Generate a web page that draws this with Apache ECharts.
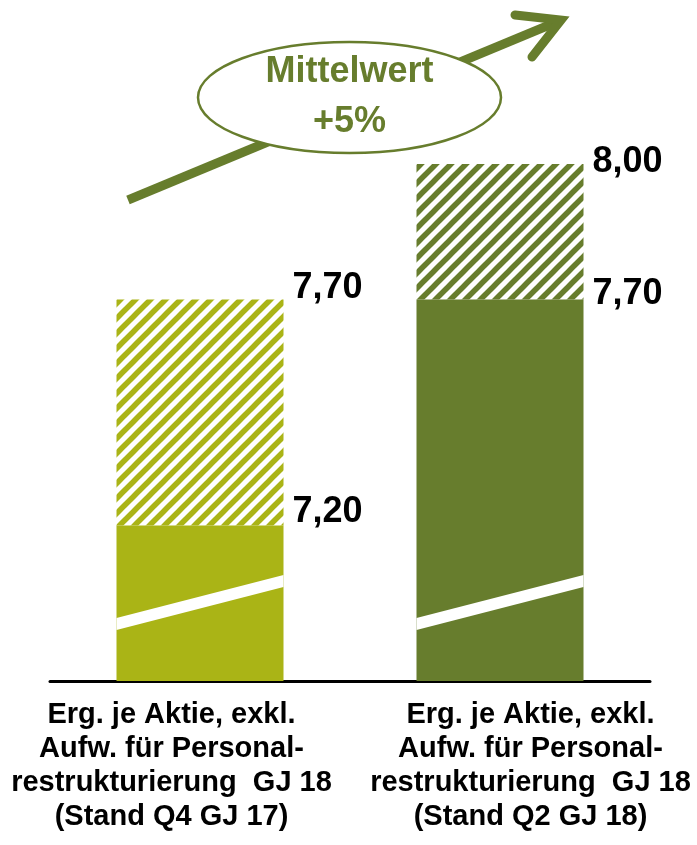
<!DOCTYPE html>
<html>
<head>
<meta charset="utf-8">
<script src="https://cdn.jsdelivr.net/npm/echarts@6/dist/echarts.min.js"></script>
<style>
  html, body { margin: 0; padding: 0; background: #fff; }
  #chart { width: 697px; height: 845px; }
</style>
</head>
<body>
<div id="chart"></div>
<script>
  // Kategorien + Werte
  const categories = [
    'Erg. je Aktie, exkl.\nAufw. für Personal-\nrestrukturierung  GJ 18\n(Stand Q4 GJ 17)',
    'Erg. je Aktie, exkl.\nAufw. für Personal-\nrestrukturierung  GJ 18\n(Stand Q2 GJ 18)'
  ];
  const lowValues = [7.20, 7.70];   // untere Spanne (voll)
  const highValues = [7.70, 8.00];  // obere Spanne (schraffiert)
  const badgeText = 'Mittelwert\n+5%';

  // Achse ist unten abgeschnitten (Achsenbruch)
  const axisMin = 6.856;
  const axisMax = 8.00;

  const solidColors = ['#AAB416', '#677D2D'];
  const olive = '#677D2D';
  const labelShiftLow = [-13, -5];
  const labelShiftHigh = [-11, -2];
  const catPadding = [[0, 57, 0, 0], [0, 0, 0, 61]];
  const barWidth = 167;
  const font = 'Arial, "Liberation Sans", sans-serif';

  function hatch(color) {
    const c = document.createElement('canvas');
    const s = 15;
    c.width = s; c.height = s;
    const ctx = c.getContext('2d');
    ctx.strokeStyle = color;
    ctx.lineWidth = 5.5;
    ctx.lineCap = 'square';
    [[0, s, s, 0], [-s / 2, s / 2, s / 2, -s / 2], [s / 2, s * 1.5, s * 1.5, s / 2]].forEach(l => {
      ctx.beginPath();
      ctx.moveTo(l[0], l[1]);
      ctx.lineTo(l[2], l[3]);
      ctx.stroke();
    });
    return c;
  }

  const fmt = v => v.toFixed(2).replace('.', ',');

  const myChart = echarts.init(document.getElementById('chart'), null, {renderer: 'canvas'});

  const labelBase = {
    show: true,
    position: ['100%', 0],
    align: 'left',
    verticalAlign: 'middle',
    color: '#000',
    fontFamily: font,
    fontWeight: 'bold',
    fontSize: 36
  };

  myChart.setOption({
    animation: false,
    grid: {left: 50, right: 47, top: 164, bottom: 164},
    xAxis: {
      type: 'category',
      data: categories.map((c, i) => ({value: c, textStyle: {padding: catPadding[i]}})),
      axisLine: {show: true, lineStyle: {color: '#000', width: 3}},
      axisTick: {show: false},
      splitLine: {show: false},
      axisLabel: {
        margin: 17,
        color: '#000',
        fontFamily: font,
        fontWeight: 'bold',
        fontSize: 29,
        lineHeight: 34,
        align: 'center',
        interval: 0
      }
    },
    yAxis: {
      type: 'value',
      show: false,
      min: axisMin,
      max: axisMax,
      splitLine: {show: false}
    },
    series: [
      {
        name: 'low',
        type: 'bar',
        stack: 'a',
        barWidth: barWidth,
        z: 2,
        data: lowValues.map((v, i) => ({
          value: v,
          itemStyle: {color: solidColors[i]},
          label: Object.assign({}, labelBase, {offset: [9, labelShiftLow[i]], formatter: () => fmt(lowValues[i])})
        }))
      },
      {
        name: 'high',
        type: 'bar',
        stack: 'a',
        barWidth: barWidth,
        z: 2,
        data: highValues.map((v, i) => ({
          value: v - lowValues[i],
          itemStyle: {color: {image: hatch(solidColors[i]), repeat: 'repeat'}},
          label: Object.assign({}, labelBase, {offset: [9, labelShiftHigh[i]], formatter: () => fmt(highValues[i])})
        }))
      },
      {
        // weisser Achsenbruch-Streifen
        name: 'break',
        type: 'custom',
        z: 5,
        silent: true,
        data: categories.map((c, i) => [i, axisMin]),
        renderItem: function (params, api) {
          const p = api.coord([api.value(0), api.value(1)]);
          const h = barWidth / 2;
          return {
            type: 'polygon',
            shape: {
              points: [
                [p[0] - h, p[1] - 63], [p[0] + h, p[1] - 106],
                [p[0] + h, p[1] - 94], [p[0] - h, p[1] - 51]
              ]
            },
            style: {fill: '#fff'}
          };
        }
      }
    ],
    graphic: [
      {
        type: 'line', z: 10,
        shape: {x1: 128, y1: 200, x2: 559, y2: 21},
        style: {stroke: olive, lineWidth: 9, lineCap: 'butt'}
      },
      {
        type: 'polyline', z: 10,
        shape: {points: [[515, 15], [561, 20], [532, 57]]},
        style: {stroke: olive, lineWidth: 9, lineCap: 'round', lineJoin: 'miter', fill: null}
      },
      {
        type: 'ellipse', z: 11,
        shape: {cx: 349.5, cy: 97.5, rx: 151.5, ry: 55.5},
        style: {fill: '#fff', stroke: olive, lineWidth: 2.5}
      },
      {
        type: 'text', z: 12,
        x: 349.5, y: 97.5,
        style: {
          text: badgeText,
          fill: olive,
          font: 'bold 36px ' + font,
          align: 'center',
          verticalAlign: 'middle',
          lineHeight: 50
        }
      }
    ]
  });
</script>
</body>
</html>
